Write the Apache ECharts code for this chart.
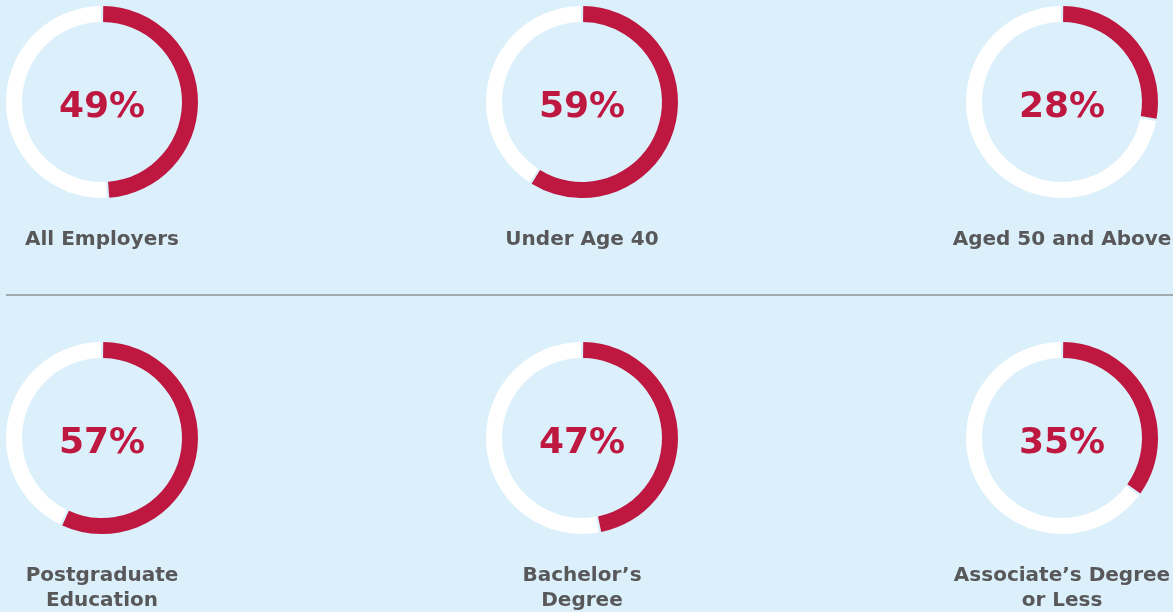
<!DOCTYPE html>
<html>
<head>
<meta charset="utf-8">
<script src="https://cdn.jsdelivr.net/npm/echarts@6/dist/echarts.min.js"></script>
<style>
  html, body { margin: 0; padding: 0; background: #dbf0fb; }
  #main { width: 1173px; height: 612px; }
</style>
</head>
<body>
<div id="main"></div>
<script>
const labels = ['All Employers', 'Under Age 40', 'Aged 50 and Above',
                'Postgraduate\nEducation', 'Bachelor\u2019s\nDegree', 'Associate\u2019s Degree\nor Less']
const values = [49, 59, 28, 57, 47, 35]

const colX = [102, 582, 1062]
const rowY = [102, 438]
const red = '#be1840'
const grey = '#58585a'

const chart = echarts.init(document.getElementById('main'))

const series = []
const texts = []
values.forEach((v, i) => {
    const cx = colX[i % 3]
    const cy = rowY[Math.floor(i / 3)]
    series.push({
        type: 'pie',
        center: [cx, cy],
        radius: [80, 96],
        startAngle: 90,
        clockwise: true,
        padAngle: 1.5,
        silent: true,
        label: { show: false },
        labelLine: { show: false },
        data: [
            { value: v, itemStyle: { color: red } },
            { value: 100 - v, itemStyle: { color: '#ffffff' } }
        ]
    })
    // percentage in the middle of the ring
    texts.push({
        type: 'text',
        x: cx, y: cy + 6,
        style: {
            text: v + '%', fill: red,
            font: 'bold 36px "DejaVu Sans"',
            align: 'center', verticalAlign: 'middle'
        }
    })
    // group name under the ring
    texts.push({
        type: 'text',
        x: cx, y: cy + 125,
        style: {
            text: labels[i], fill: grey,
            font: 'bold 20px "DejaVu Sans"', lineHeight: 25,
            align: 'center', verticalAlign: 'top'
        }
    })
})

texts.push({
    type: 'line',
    shape: { x1: 6, y1: 295, x2: 1173, y2: 295 },
    style: { stroke: '#a2a9ae', lineWidth: 2 }
})

chart.setOption({
    backgroundColor: '#dbf0fb',
    graphic: texts,
    series: series
})
</script>
</body>
</html>
